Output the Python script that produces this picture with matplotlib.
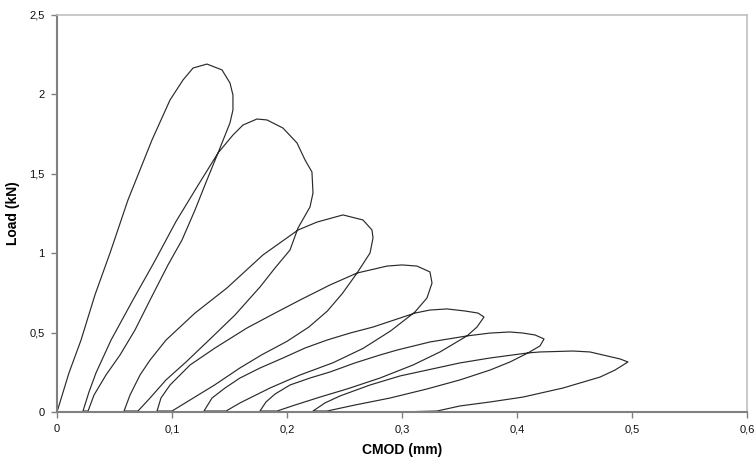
import numpy as np
import matplotlib
matplotlib.use('Agg')
import matplotlib.pyplot as plt

plt.rcParams['font.family'] = ['Liberation Sans', 'DejaVu Sans']

# CMOD (mm) and load (kN), one list per cycle
loop1_x = [0, 0.0104, 0.0209, 0.0330, 0.0461, 0.0617, 0.0826, 0.0983, 0.1096, 0.1183, 0.1304, 0.1435,
           0.1504, 0.1530, 0.1530, 0.1504, 0.1400, 0.1304, 0.1200, 0.1087, 0.0965, 0.0809, 0.0678,
           0.0548, 0.0426, 0.0322, 0.0270]
loop1_y = [0, 0.246, 0.453, 0.737, 1.001, 1.335, 1.713, 1.965, 2.091, 2.166, 2.191, 2.154,
           2.072, 1.996, 1.902, 1.820, 1.631, 1.461, 1.272, 1.083, 0.926, 0.705, 0.516,
           0.359, 0.233, 0.107, 0.006]

loop2_x = [0.0226, 0.0278, 0.0339, 0.0470, 0.0660, 0.0850, 0.1035, 0.1220, 0.1400, 0.1530, 0.1617,
           0.1739, 0.1826, 0.1965, 0.2087, 0.2157, 0.2217, 0.2226, 0.2200, 0.2096, 0.2026, 0.1896,
           0.1765, 0.1548, 0.1322, 0.1122, 0.0948, 0.0809, 0.0704]
loop2_y = [0.006, 0.126, 0.246, 0.453, 0.705, 0.950, 1.200, 1.420, 1.631, 1.744, 1.807,
           1.845, 1.839, 1.788, 1.694, 1.587, 1.511, 1.379, 1.291, 1.159, 1.020, 0.907,
           0.787, 0.611, 0.453, 0.315, 0.202, 0.088, 0.006]

loop3_x = [0.0583, 0.0635, 0.0722, 0.0809, 0.0948, 0.1200, 0.1478, 0.1791, 0.2096, 0.2261, 0.2487,
           0.2661, 0.2739, 0.2748, 0.2722, 0.2609, 0.2480, 0.2350, 0.2190, 0.2000, 0.1780, 0.1590,
           0.1370, 0.1157, 0.1000]
loop3_y = [0.006, 0.107, 0.233, 0.327, 0.453, 0.623, 0.781, 0.989, 1.146, 1.196, 1.241,
           1.209, 1.146, 1.096, 1.001, 0.875, 0.745, 0.635, 0.535, 0.445, 0.360, 0.277,
           0.170, 0.076, 0.006]

loop4_x = [0.0870, 0.0904, 0.0983, 0.1157, 0.1374, 0.1652, 0.1896, 0.2113, 0.2374, 0.2609, 0.2870,
           0.3000, 0.3130, 0.3243, 0.3261, 0.3217, 0.3113, 0.2900, 0.2660, 0.2400, 0.2113, 0.1852,
           0.1591, 0.1470]
loop4_y = [0.006, 0.088, 0.170, 0.296, 0.403, 0.529, 0.623, 0.705, 0.800, 0.875, 0.919,
           0.926, 0.919, 0.882, 0.812, 0.718, 0.630, 0.510, 0.400, 0.310, 0.233, 0.151,
           0.057, 0.006]

loop5_x = [0.1278, 0.1348, 0.1461, 0.1591, 0.1765, 0.1965, 0.2157, 0.2348, 0.2548, 0.2748, 0.3113,
           0.3243, 0.3391, 0.3548, 0.3661, 0.3713, 0.3652, 0.3565, 0.3330, 0.3096, 0.2809, 0.2522,
           0.2287, 0.2070, 0.1913]
loop5_y = [0.006, 0.088, 0.151, 0.214, 0.277, 0.340, 0.403, 0.453, 0.497, 0.535, 0.623,
           0.642, 0.649, 0.636, 0.623, 0.598, 0.535, 0.479, 0.378, 0.296, 0.214, 0.145,
           0.094, 0.044, 0.006]

loop6_x = [0.1765, 0.1817, 0.1896, 0.2026, 0.2200, 0.2374, 0.2591, 0.2809, 0.2957, 0.3243, 0.3565,
           0.3765, 0.3939, 0.4052, 0.4157, 0.4235, 0.4200, 0.4096, 0.3939, 0.3765, 0.3504, 0.3217,
           0.2896, 0.2591, 0.2348]
loop6_y = [0.006, 0.063, 0.113, 0.170, 0.214, 0.252, 0.309, 0.359, 0.390, 0.441, 0.479,
           0.497, 0.504, 0.497, 0.485, 0.460, 0.416, 0.372, 0.315, 0.264, 0.202, 0.145,
           0.088, 0.044, 0.006]

loop7_x = [0.2226, 0.2330, 0.2461, 0.2722, 0.2983, 0.3217, 0.3504, 0.3765, 0.4096, 0.4200, 0.4487,
           0.4635, 0.4783, 0.4896, 0.4965, 0.4852, 0.4722, 0.4400, 0.4052, 0.3765, 0.3504, 0.3304,
           0.3130]
loop7_y = [0.006, 0.057, 0.101, 0.170, 0.227, 0.264, 0.309, 0.340, 0.372, 0.378, 0.384,
           0.378, 0.353, 0.334, 0.315, 0.264, 0.220, 0.151, 0.094, 0.063, 0.038, 0.006,
           0.003]

x_ticks = [0, 0.1, 0.2, 0.3, 0.4, 0.5, 0.6]
x_labels = ['0', '0,1', '0,2', '0,3', '0,4', '0,5', '0,6']
y_ticks = [0, 0.5, 1, 1.5, 2, 2.5]
y_labels = ['0', '0,5', '1', '1,5', '2', '2,5']

cmod = np.concatenate([loop1_x, loop2_x, loop3_x, loop4_x, loop5_x, loop6_x, loop7_x])
load = np.concatenate([loop1_y, loop2_y, loop3_y, loop4_y, loop5_y, loop6_y, loop7_y])

fig = plt.figure(figsize=(7.55, 4.61), dpi=100)
ax = fig.add_axes([0.0755, 0.1063, 0.9139, 0.8612])

ax.plot(cmod, load, color='#2a2a2a', lw=0.85)

ax.set_xlim(0, 0.6)
ax.set_ylim(0, 2.5)
ax.set_xticks(x_ticks)
ax.set_xticklabels(x_labels)
ax.set_yticks(y_ticks)
ax.set_yticklabels(y_labels)
ax.tick_params(axis='both', direction='out', length=4, width=1, color='#808080',
               labelsize=8, pad=5, labelcolor='#111111')

for side in ['left', 'bottom']:
    ax.spines[side].set_color('#808080')
    ax.spines[side].set_linewidth(1.5)
for side in ['top', 'right']:
    ax.spines[side].set_color('#c0c0c0')
    ax.spines[side].set_linewidth(1.2)

ax.set_xlabel('CMOD (mm)', fontsize=10, fontweight='bold', labelpad=6)
ax.set_ylabel('Load (kN)', fontsize=10, fontweight='bold')
ax.yaxis.set_label_coords(-0.054, 0.5)

fig.savefig('out.png', dpi=100)
